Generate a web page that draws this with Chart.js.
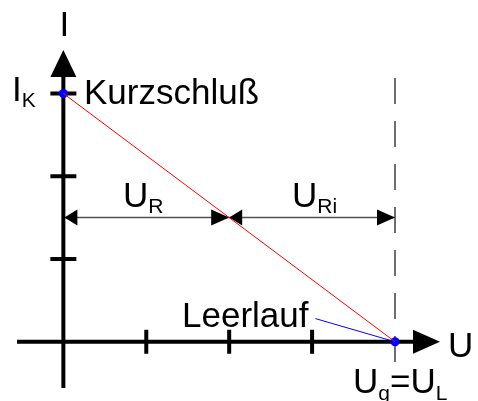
<!DOCTYPE html>
<html>
<head>
<meta charset="utf-8">
<script src="https://cdn.jsdelivr.net/npm/chart.js@4.4.1/dist/chart.umd.min.js"></script>
<style>
  html, body { margin: 0; padding: 0; background: #fff; overflow: hidden; }
  #wrap { width: 478px; height: 401px; }
</style>
</head>
<body>
<div id="wrap"><canvas id="kennlinie" width="478" height="401"></canvas></div>
<script>
// Kennlinie der Spannungsquelle (U, I) in Rastereinheiten
const kennU = [0, 4];
const kennI = [3, 0];
// Teilstriche auf den Achsen
const xTicks = [1, 2, 3];
const yTicks = [1, 2, 3];
// Maßpfeile U_R / U_Ri auf Höhe I = 1.5
const massU = [0, 2, 4];
const massI = 1.5;
// Hinweislinie vom Text "Leerlauf" zum Leerlaufpunkt
const leaderU = [3.04, 4];
const leaderI = [0.28, 0];

const FONT = '"Liberation Sans", Arial, sans-serif';
const GROSS = 35, KLEIN = 21;

const kennPunkte = kennU.map((u, i) => ({ x: u, y: kennI[i] }));
const leaderPunkte = leaderU.map((u, i) => ({ x: u, y: leaderI[i] }));

function pfeil(ctx, tipX, tipY, dir, len, half) {
    ctx.beginPath();
    ctx.moveTo(tipX, tipY);
    ctx.lineTo(tipX - dir * len, tipY - half);
    ctx.lineTo(tipX - dir * len, tipY + half);
    ctx.closePath();
    ctx.fill();
}

function pfeilV(ctx, tipX, tipY, len, half) {
    ctx.beginPath();
    ctx.moveTo(tipX, tipY);
    ctx.lineTo(tipX - half, tipY + len);
    ctx.lineTo(tipX + half, tipY + len);
    ctx.closePath();
    ctx.fill();
}

// Text mit Index, gibt rechtes Ende zurück
function mitIndex(ctx, haupt, index, x, base, subDy) {
    ctx.font = GROSS + 'px ' + FONT;
    ctx.fillText(haupt, x, base);
    let w = ctx.measureText(haupt).width;
    if (!index) return x + w;
    ctx.font = KLEIN + 'px ' + FONT;
    ctx.fillText(index, x + w, base + subDy);
    return x + w + ctx.measureText(index).width;
}

const achsenPlugin = {
    id: 'achsen',
    beforeDatasetsDraw(chart) {
        const { ctx, scales: { x, y } } = chart;
        const x0 = x.getPixelForValue(0), y0 = y.getPixelForValue(0);
        ctx.save();

        // gestrichelte Linie bei U = Uq
        const xq = x.getPixelForValue(kennU[1]);
        ctx.strokeStyle = '#6e6e6e';
        ctx.lineWidth = 2;
        ctx.setLineDash([26, 17]);
        ctx.beginPath();
        ctx.moveTo(xq, 78);
        ctx.lineTo(xq, 362);
        ctx.stroke();
        ctx.setLineDash([]);

        // Maßlinie mit Pfeilen
        const ym = y.getPixelForValue(massI);
        ctx.strokeStyle = '#505050';
        ctx.lineWidth = 1.5;
        ctx.beginPath();
        ctx.moveTo(x.getPixelForValue(massU[0]), ym);
        ctx.lineTo(x.getPixelForValue(massU[2]), ym);
        ctx.stroke();
        ctx.fillStyle = '#000';
        pfeil(ctx, x.getPixelForValue(massU[0]) + 1, ym, -1, 13, 8);
        pfeil(ctx, x.getPixelForValue(massU[1]), ym, 1, 18, 8);
        pfeil(ctx, x.getPixelForValue(massU[1]), ym, -1, 13, 8);
        pfeil(ctx, x.getPixelForValue(massU[2]), ym, 1, 18, 8);

        // Achsen
        ctx.strokeStyle = '#000';
        ctx.lineWidth = 4;
        ctx.beginPath();
        ctx.moveTo(17, y0);
        ctx.lineTo(414, y0);
        ctx.moveTo(x0, 388);
        ctx.lineTo(x0, 76);
        ctx.stroke();
        pfeil(ctx, 440, y0, 1, 27, 12);
        pfeilV(ctx, x0, 50, 27, 13);

        // Teilstriche
        ctx.beginPath();
        xTicks.forEach(t => {
            const px = x.getPixelForValue(t);
            ctx.moveTo(px, y0 - 12);
            ctx.lineTo(px, y0 + 12);
        });
        yTicks.forEach(t => {
            const py = y.getPixelForValue(t);
            ctx.moveTo(x0 - 13, py);
            ctx.lineTo(x0 + 13, py);
        });
        ctx.stroke();

        // Beschriftung
        ctx.fillStyle = '#000';
        ctx.textBaseline = 'alphabetic';
        ctx.font = GROSS + 'px ' + FONT;
        ctx.textAlign = 'center';
        ctx.fillText('I', x0 + 1, 36);
        ctx.textAlign = 'left';
        mitIndex(ctx, 'I', 'K', 12, 101, 6);
        mitIndex(ctx, 'Kurzschluß', '', 84, 104, 0);
        mitIndex(ctx, 'Leerlauf', '', 182, 327, 0);
        mitIndex(ctx, 'U', '', 448, 357, 0);
        mitIndex(ctx, 'U', 'R', 123, 207, 6);
        mitIndex(ctx, 'U', 'Ri', 292, 207, 6);
        let e = mitIndex(ctx, 'U', 'g', 353, 393, 7);
        e = mitIndex(ctx, '=', '', e, 393, 0);
        mitIndex(ctx, 'U', 'L', e, 393, 7);

        ctx.restore();
    }
};

new Chart(document.getElementById('kennlinie'), {
    type: 'scatter',
    data: {
        datasets: [
            { data: kennPunkte, showLine: true, borderColor: '#ff0000', borderWidth: 1, pointRadius: 0, clip: false },
            { data: leaderPunkte, showLine: true, borderColor: '#0000ff', borderWidth: 1, pointRadius: 0, clip: false },
            { data: kennPunkte, showLine: false, pointRadius: 4.5, backgroundColor: '#0000ff', borderWidth: 0, clip: false }
        ]
    },
    options: {
        responsive: false,
        animation: false,
        layout: { padding: 0 },
        plugins: { legend: { display: false }, tooltip: { enabled: false } },
        scales: {
            x: { type: 'linear', display: false, min: -60 / 84.5, max: 418 / 84.5 },
            y: { type: 'linear', display: false, min: -56 / 84.67, max: 345 / 84.67 }
        }
    },
    plugins: [achsenPlugin]
});
</script>
</body>
</html>
